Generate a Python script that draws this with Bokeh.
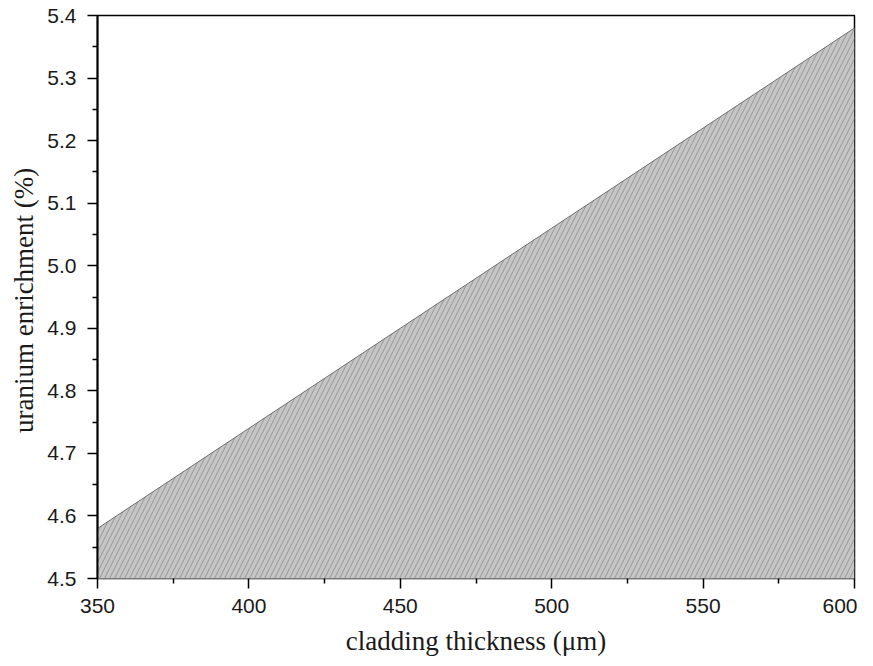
from bokeh.plotting import figure
from bokeh.models import Range1d, NumeralTickFormatter, FixedTicker
from bokeh.embed import file_html
from bokeh.resources import INLINE

# Data
thickness = [350, 400, 450, 500, 550, 600]          # cladding thickness (um)
enrichment = [4.58, 4.74, 4.90, 5.06, 5.22, 5.38]    # uranium enrichment (%)
x_ticks = [350, 400, 450, 500, 550, 600]
x_minor = [375, 425, 475, 525, 575]
y_ticks = [4.5, 4.6, 4.7, 4.8, 4.9, 5.0, 5.1, 5.2, 5.3, 5.4]
y_minor = [4.55, 4.65, 4.75, 4.85, 4.95, 5.05, 5.15, 5.25, 5.35]
X_MIN, X_MAX = 350, 600
Y_MIN, Y_MAX = 4.5, 5.4

p = figure(width=857, height=658, output_backend="svg", toolbar_location=None,
           x_range=Range1d(X_MIN, X_MAX), y_range=Range1d(Y_MIN, Y_MAX),
           min_border_left=97, min_border_right=3, min_border_top=15, min_border_bottom=80)

p.background_fill_color = "white"
p.border_fill_color = "white"
p.xgrid.visible = False
p.ygrid.visible = False
p.outline_line_color = "black"
p.outline_line_width = 1.5

# shaded region
p.varea(x=thickness, y1=[Y_MIN] * len(thickness), y2=enrichment,
        fill_color="#c6c6c6", hatch_pattern="/", hatch_color="#a0a0a0",
        hatch_scale=10, hatch_weight=1.2)
p.line(thickness, enrichment, line_color="#707070", line_width=1)

# axes
for ax in (p.xaxis[0], p.yaxis[0]):
    ax.major_tick_out = 10
    ax.major_tick_in = 0
    ax.minor_tick_out = 5
    ax.minor_tick_in = 0
    ax.major_tick_line_color = "black"
    ax.minor_tick_line_color = "black"
    ax.major_tick_line_width = 1.5
    ax.minor_tick_line_width = 1.5
    ax.major_label_text_font = "Liberation Sans"
    ax.major_label_text_font_size = "21px"
    ax.major_label_text_color = "#1a1a1a"
    ax.axis_label_text_font = "Liberation Serif"
    ax.axis_label_text_font_size = "27px"
    ax.axis_label_text_font_style = "normal"
    ax.axis_label_text_color = "#1a1a1a"

p.xaxis.ticker = FixedTicker(ticks=x_ticks, minor_ticks=x_minor)
p.yaxis.ticker = FixedTicker(ticks=y_ticks, minor_ticks=y_minor)
p.yaxis.formatter = NumeralTickFormatter(format="0.0")
p.xaxis.axis_label = "cladding thickness (\u03bcm)"
p.yaxis.axis_label = "uranium enrichment  (%)"
p.xaxis.major_label_standoff = 10
p.yaxis.major_label_standoff = 11
p.xaxis.axis_label_standoff = 10
p.yaxis.axis_label_standoff = 5
p.yaxis.axis_line_width = 2
p.yaxis.axis_line_color = "black"
p.xaxis.axis_line_color = "#7a7a7a"
p.xaxis.axis_line_width = 1

open("out.html", "w").write(file_html(p, INLINE))
